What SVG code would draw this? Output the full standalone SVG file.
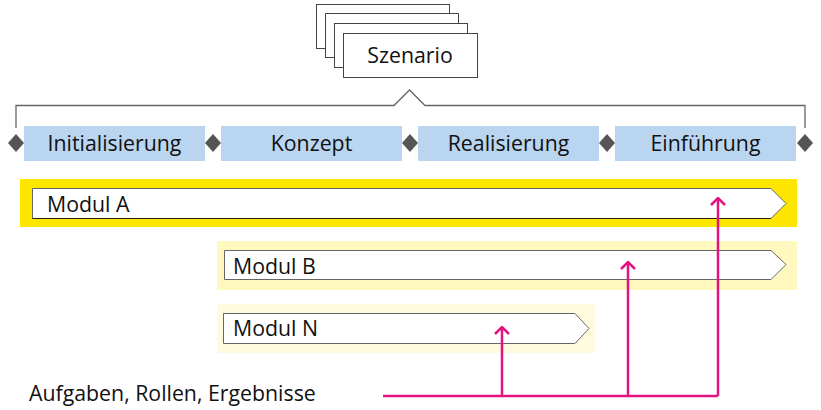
<svg xmlns="http://www.w3.org/2000/svg" width="821" height="410" viewBox="0 0 821 410">
<defs>
<style>
text{font-family:"Open Sans","Noto Sans","DejaVu Sans",sans-serif;font-size:21.3px;fill:#111}
.sheet{fill:#fff;stroke:#444;stroke-width:1}
.phase{fill:#B9D5F0}
.dia{fill:#555}
.brk{fill:none;stroke:#666;stroke-width:1.3}
.arr{fill:#fff;stroke:#666;stroke-width:1}
.mag{fill:none;stroke:#E5137F;stroke-width:2.5}
</style>
<marker id="ah" viewBox="0 0 10 16" refX="8.5" refY="8" markerWidth="10" markerHeight="16" markerUnits="userSpaceOnUse" orient="auto">
<path d="M1.5,1 L8.5,8 L1.5,15" fill="none" stroke="#E5137F" stroke-width="2.5"/>
</marker>
</defs>
<g id="szenario">
<rect class="sheet" x="316.5" y="4.5" width="133" height="44"/>
<rect class="sheet" x="325.5" y="13.5" width="133" height="44"/>
<rect class="sheet" x="334.5" y="23.5" width="133" height="44"/>
<rect class="sheet" x="343.5" y="33.5" width="134" height="44"/>
<text x="410" y="63" text-anchor="middle">Szenario</text>
</g>
<g id="bracket">
<path class="brk" d="M16,128 V105.5 H394 L409.5,90 L425,105.5 H805 V128"/>
</g>
<g id="phase-initialisierung">
<rect class="phase" x="24" y="126" width="181" height="35"/>
<text x="114.5" y="151" text-anchor="middle">Initialisierung</text>
</g>
<g id="phase-konzept">
<rect class="phase" x="221" y="126" width="181" height="35"/>
<text x="311.5" y="151" text-anchor="middle">Konzept</text>
</g>
<g id="phase-realisierung">
<rect class="phase" x="418" y="126" width="181" height="35"/>
<text x="508.5" y="151" text-anchor="middle">Realisierung</text>
</g>
<g id="phase-einfuehrung">
<rect class="phase" x="615" y="126" width="181" height="35"/>
<text x="705.5" y="151" text-anchor="middle">Einführung</text>
</g>
<g id="milestones">
<path class="dia" d="M16,134 L24,143 L16,152 L8,143 Z"/>
<path class="dia" d="M213,134 L221,143 L213,152 L205,143 Z"/>
<path class="dia" d="M410,134 L418,143 L410,152 L402,143 Z"/>
<path class="dia" d="M607,134 L615,143 L607,152 L599,143 Z"/>
<path class="dia" d="M805,134 L813,143 L805,152 L797,143 Z"/>
</g>
<g id="modul-a">
<rect x="20" y="179" width="777" height="48" fill="#FFE600"/>
<path class="arr" d="M32.5,188.5 H771 L786,203.5 L771,218.5 H32.5 Z"/>
<path d="M32.5,218.5 H771" stroke="#222" stroke-width="1"/>
<text x="47" y="212">Modul A</text>
</g>
<g id="modul-b">
<rect x="217" y="241" width="580" height="49" fill="#FFF8BF"/>
<path class="arr" d="M224.5,250.5 H771 L786,264.5 L771,279.5 H224.5 Z"/>
<text x="233" y="274">Modul B</text>
</g>
<g id="modul-n">
<rect x="217" y="304" width="378" height="49" fill="#FFFBDF"/>
<path class="arr" d="M223.5,313.5 H575 L589,328.5 L575,343.5 H223.5 Z"/>
<text x="233" y="336">Modul N</text>
</g>
<g id="label-aufgaben">
<text x="29" y="401">Aufgaben, Rollen, Ergebnisse</text>
</g>
<g id="connectors">
<path class="mag" d="M383,396 H718"/>
<path class="mag" d="M502,396 V327" marker-end="url(#ah)"/>
<path class="mag" d="M628,396 V262" marker-end="url(#ah)"/>
<path class="mag" d="M718,396 V198" marker-end="url(#ah)"/>
</g>
</svg>
